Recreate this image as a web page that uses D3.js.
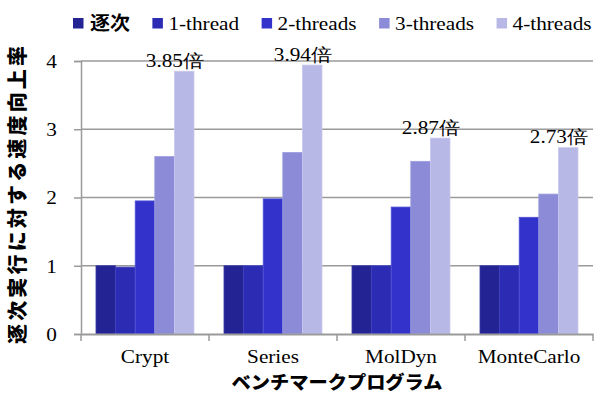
<!DOCTYPE html>
<html><head><meta charset="utf-8">
<script src="https://cdn.jsdelivr.net/npm/d3@7"></script>
<style>
body{margin:0;background:#fff;}
svg{display:block;}
</style></head>
<body><svg id="c" width="594" height="393"></svg>
<script>
const categories = ["Crypt", "Series", "MolDyn", "MonteCarlo"];
const seriesNames = ["逐次", "1-thread", "2-threads", "3-threads", "4-threads"];
const seqValues  = [1.00, 1.00, 1.00, 1.00];
const t1Values   = [0.98, 1.00, 1.00, 1.00];
const t2Values   = [1.95, 1.98, 1.86, 1.71];
const t3Values   = [2.60, 2.66, 2.53, 2.05];
const t4Values   = [3.85, 3.94, 2.87, 2.73];
const speedupLabels = ["3.85倍", "3.94倍", "2.87倍", "2.73倍"];
const yTicks = [0, 1, 2, 3, 4];
const colors = ["#232394", "#2b2bb3", "#3333cc", "#8b8bd8", "#b8b8e6"];
const edgeColors = ["#3a3aa6", "#4343c2", "#5050d6", "#9d9de0", "#c8c8ee"];
const yTitle = "逐次実行に対する速度向上率";
const xTitle = "ベンチマークプログラム";

const SERIF = "Liberation Serif, DejaVu Serif, serif";
const CJKB = "Noto Sans CJK JP, Noto Sans CJK SC, sans-serif";
const SX = 1.18;   // horizontal stretch of the reference's text
const FS = 18;

const allSeries = [seqValues, t1Values, t2Values, t3Values, t4Values];
const svg = d3.select("#c");
const pLeft = 81, pRight = 593, pTop = 61, pBottom = 334;

const x = d3.scaleBand().domain(categories).range([pLeft, pRight]).padding(0);
const x1 = d3.scaleBand().domain(seriesNames).range([0, x.bandwidth()]).paddingInner(0).paddingOuter(0.765);
const y = d3.scaleLinear().domain([0, 4]).range([pBottom, pTop]);

// gridlines
svg.append("g").selectAll("line").data(yTicks.filter(d => d > 0)).join("line")
  .attr("x1", pLeft).attr("x2", pRight)
  .attr("y1", d => y(d)).attr("y2", d => y(d))
  .attr("stroke", "#9a9a9a").attr("stroke-width", 1.5);

// bars
const rows = [];
categories.forEach((c, i) => seriesNames.forEach((s, j) => rows.push({c, s, j, v: allSeries[j][i]})));
svg.append("g").selectAll("rect").data(rows).join("rect")
  .attr("x", d => x(d.c) + x1(d.s))
  .attr("width", x1.bandwidth())
  .attr("y", d => y(d.v))
  .attr("height", d => y(0) - y(d.v))
  .attr("fill", d => colors[d.j])
  .attr("stroke", d => edgeColors[d.j]).attr("stroke-width", 0.8);

// y axis
const yAxis = svg.append("g").attr("transform", `translate(${pLeft},0)`)
  .call(d3.axisLeft(y).tickValues(yTicks).tickFormat(d3.format("d")).tickSize(7).tickPadding(13.5));
yAxis.attr("font-family", SERIF).attr("font-size", FS);
yAxis.select(".domain").attr("stroke", "#9a9a9a").attr("stroke-width", 1.5);
yAxis.selectAll(".tick line").attr("stroke", "#9a9a9a").attr("stroke-width", 1.5);
yAxis.selectAll("text").attr("fill", "#000").attr("dy", "0.36em").attr("transform", `scale(${SX},1)`);

// x axis
const xAxis = svg.append("g").attr("transform", `translate(0,${pBottom})`)
  .call(d3.axisBottom(x).tickSize(0).tickPadding(16));
xAxis.attr("font-family", SERIF).attr("font-size", FS);
xAxis.select(".domain").attr("stroke", "#9a9a9a").attr("stroke-width", 2);
xAxis.selectAll("text").attr("fill", "#000").attr("transform", `scale(${SX},1)`);
// category separator ticks
const bounds = categories.map(c => x(c)).concat([x.range()[1]]);
svg.append("g").selectAll("line").data(bounds).join("line")
  .attr("x1", d => d).attr("x2", d => d).attr("y1", pBottom).attr("y2", pBottom + 7)
  .attr("stroke", "#9a9a9a").attr("stroke-width", 1.5);

// speedup labels
svg.append("g").attr("font-family", SERIF).attr("font-size", FS)
  .selectAll("text").data(categories).join("text")
  .attr("text-anchor", "middle")
  .attr("transform", (c, i) => `translate(${x(c) + x1("4-threads") + x1.bandwidth() / 2 - 9},${y(t4Values[i]) - 4.5}) scale(${SX},1)`)
  .text((c, i) => speedupLabels[i]);

// legend
const lg = svg.append("g");
let lx = 73;
seriesNames.forEach((s, j) => {
  lg.append("rect").attr("x", lx).attr("y", 18).attr("width", 10.5).attr("height", 10.5).attr("fill", colors[j]);
  const off = j === 0 ? 17 : 16;
  const sx = j === 0 ? 1.05 : SX;
  const t = lg.append("text").attr("transform", `translate(${lx + off},29.5) scale(${sx},1)`)
    .attr("font-family", j === 0 ? CJKB : SERIF)
    .attr("font-weight", j === 0 ? "bold" : "normal")
    .attr("font-size", j === 0 ? 19 : FS).text(s);
  lx = lx + off + t.node().getComputedTextLength() * sx + 22.5;
});

// axis titles
svg.append("text").attr("font-family", CJKB).attr("font-weight", "900").attr("font-size", 20)
  .attr("transform", "translate(25,195) rotate(-90)").attr("text-anchor", "middle")
  .attr("textLength", 298).attr("lengthAdjust", "spacing").text(yTitle);
svg.append("text").attr("font-family", CJKB).attr("font-weight", "900").attr("font-size", 18)
  .attr("x", 337).attr("y", 389).attr("text-anchor", "middle")
  .attr("textLength", 211).attr("lengthAdjust", "spacingAndGlyphs").text(xTitle);
</script></body></html>
